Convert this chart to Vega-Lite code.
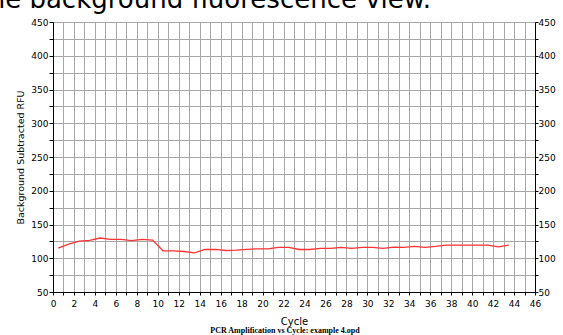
{
  "$schema": "https://vega.github.io/schema/vega-lite/v6.json",
  "width": 482,
  "height": 270,
  "autosize": {"type": "none"},
  "padding": {"left": 53, "top": 22, "right": 28, "bottom": 43},
  "background": "white",
  "config": {"view": {"stroke": null}, "font": "DejaVu Sans"},
  "title": {
    "text": "PCR Amplification vs Cycle: example 4.opd",
    "orient": "bottom",
    "anchor": "middle",
    "font": "Liberation Serif",
    "fontSize": 8,
    "fontWeight": "bold",
    "color": "black",
    "offset": 1,
    "dx": -9
  },
  "data": {
    "values": [
      {"cycle": 0.5, "rfu": 115}, {"cycle": 1.5, "rfu": 121}, {"cycle": 2.5, "rfu": 125.5},
      {"cycle": 3.5, "rfu": 126.5}, {"cycle": 4.5, "rfu": 130}, {"cycle": 5.5, "rfu": 128},
      {"cycle": 6.5, "rfu": 128}, {"cycle": 7.5, "rfu": 126}, {"cycle": 8.5, "rfu": 128},
      {"cycle": 9.5, "rfu": 127}, {"cycle": 10.5, "rfu": 111}, {"cycle": 11.5, "rfu": 111},
      {"cycle": 12.5, "rfu": 110}, {"cycle": 13.5, "rfu": 108}, {"cycle": 14.5, "rfu": 113},
      {"cycle": 15.5, "rfu": 113}, {"cycle": 16.5, "rfu": 111.5}, {"cycle": 17.5, "rfu": 112},
      {"cycle": 18.5, "rfu": 113}, {"cycle": 19.5, "rfu": 114}, {"cycle": 20.5, "rfu": 114},
      {"cycle": 21.5, "rfu": 116}, {"cycle": 22.5, "rfu": 116}, {"cycle": 23.5, "rfu": 113},
      {"cycle": 24.5, "rfu": 113}, {"cycle": 25.5, "rfu": 114.5}, {"cycle": 26.5, "rfu": 114.5},
      {"cycle": 27.5, "rfu": 116}, {"cycle": 28.5, "rfu": 114.5}, {"cycle": 29.5, "rfu": 116},
      {"cycle": 30.5, "rfu": 116}, {"cycle": 31.5, "rfu": 114.5}, {"cycle": 32.5, "rfu": 116.5},
      {"cycle": 33.5, "rfu": 116}, {"cycle": 34.5, "rfu": 117.5}, {"cycle": 35.5, "rfu": 116},
      {"cycle": 36.5, "rfu": 117.5}, {"cycle": 37.5, "rfu": 119.5}, {"cycle": 38.5, "rfu": 119.5},
      {"cycle": 39.5, "rfu": 119.5}, {"cycle": 40.5, "rfu": 119.5}, {"cycle": 41.5, "rfu": 119.5},
      {"cycle": 42.5, "rfu": 117}, {"cycle": 43.5, "rfu": 119.5}
    ]
  },
  "layer": [
    {
      "mark": {"type": "line", "color": "#ff3333", "strokeWidth": 1.3, "clip": true},
      "encoding": {
        "x": {
          "field": "cycle",
          "type": "quantitative",
          "scale": {"domain": [0, 46], "nice": false, "zero": false},
          "axis": {
            "orient": "bottom",
            "values": [0,1,2,3,4,5,6,7,8,9,10,11,12,13,14,15,16,17,18,19,20,21,22,23,24,25,26,27,28,29,30,31,32,33,34,35,36,37,38,39,40,41,42,43,44,45,46],
            "labelExpr": "datum.value % 2 === 0 ? datum.label : ''",
            "labelFlush": false,
            "labelOverlap": false,
            "labelFont": "DejaVu Sans",
            "labelFontSize": 9,
            "labelColor": "black",
            "labelPadding": 4,
            "tickSize": 3,
            "tickColor": "black",
            "domainColor": "black",
            "grid": true,
            "gridColor": "#a8a8a8",
            "gridOpacity": 1,
            "title": "Cycle",
            "titleFont": "DejaVu Sans",
            "titleFontSize": 10,
            "titleFontWeight": "normal",
            "titleColor": "black",
            "titlePadding": 8
          }
        },
        "y": {
          "field": "rfu",
          "type": "quantitative",
          "scale": {"domain": [50, 450], "nice": false, "zero": false},
          "axis": {
            "orient": "left",
            "values": [50,75,100,125,150,175,200,225,250,275,300,325,350,375,400,425,450],
            "labelExpr": "datum.value % 50 === 0 ? datum.label : ''",
            "labelFlush": false,
            "labelOverlap": false,
            "labelFont": "DejaVu Sans",
            "labelFontSize": 9,
            "labelColor": "black",
            "labelPadding": 1,
            "tickSize": 4,
            "tickColor": "black",
            "domainColor": "black",
            "grid": true,
            "gridColor": "#a8a8a8",
            "gridOpacity": 1,
            "title": "Background Subtracted RFU",
            "titleFont": "DejaVu Sans",
            "titleFontSize": 9.5,
            "titleFontWeight": "normal",
            "titleColor": "black",
            "titlePadding": 5
          }
        }
      }
    },
    {
      "mark": {"type": "line", "strokeOpacity": 0},
      "encoding": {
        "x": {
          "field": "cycle",
          "type": "quantitative",
          "axis": {
            "orient": "top",
            "domain": false,
            "ticks": false,
            "labels": false,
            "grid": false,
            "title": "the background fluorescence view.",
            "titleFont": "DejaVu Sans",
            "titleFontSize": 26,
            "titleFontWeight": "normal",
            "titleColor": "black",
            "titleAlign": "left",
            "titleBaseline": "alphabetic",
            "titleAngle": 0,
            "titleX": -75,
            "titleY": -15
          }
        },
        "y": {
          "field": "rfu",
          "type": "quantitative",
          "axis": {
            "orient": "right",
            "values": [50,75,100,125,150,175,200,225,250,275,300,325,350,375,400,425,450],
            "labelExpr": "datum.value % 50 === 0 ? datum.label : ''",
            "labelFlush": false,
            "labelOverlap": false,
            "labelFont": "DejaVu Sans",
            "labelFontSize": 9,
            "labelColor": "black",
            "labelPadding": 0,
            "tickSize": 3,
            "tickColor": "black",
            "domainColor": "black",
            "grid": false,
            "title": null
          }
        }
      }
    }
  ],
  "resolve": {"axis": {"x": "independent", "y": "independent"}}
}
